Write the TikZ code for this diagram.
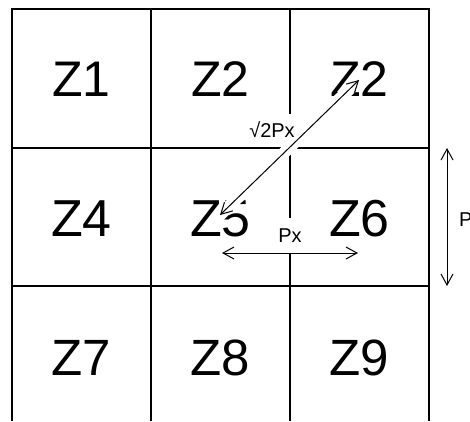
\documentclass[tikz,border=0pt]{standalone}
\usepackage{fontspec}
\setmainfont{Liberation Sans}
\usetikzlibrary{arrows.meta}
\begin{document}
\begin{tikzpicture}[x=1pt,y=-1pt,
  gridline/.style={line width=1.5pt, black},
  zone/.style={anchor=base, inner sep=0pt},
  zoneA/.style={zone, font=\fontsize{50}{50}\selectfont},
  zoneB/.style={zone, font=\fontsize{52}{52}\selectfont},
  zoneC/.style={zone, font=\fontsize{51}{51}\selectfont},
  lab/.style={fill=white, inner sep=2pt, font=\fontsize{20}{20}\selectfont},
  halo/.style={white, line width=12pt},
  arr/.style={{Straight Barb[length=11pt,width=12pt]}-{Straight Barb[length=11pt,width=12pt]}, line width=1pt, black}]
\useasboundingbox (0,0) rectangle (470,421);
\clip (0,0) rectangle (470,421);
\fill[white] (0,0) rectangle (470,421);
% grid
\draw[gridline] (12,421) -- (12,9) -- (429,9) -- (429,421);
\draw[gridline] (151,9) -- (151,421);
\draw[gridline] (290,9) -- (290,421);
\draw[gridline] (12,148) -- (429,148);
\draw[gridline] (12,286) -- (429,286);
% zones
\node[zoneA] (z1) at (81.5,96) {Z1};
\node[zoneA] (z2) at (220.5,96) {Z2};
\node[zoneA] (z3) at (359.5,96) {Z2};
\node[zoneB] (z4) at (81.5,236) {Z4};
\node[zoneB] (z5) at (220.5,236) {Z5};
\node[zoneB] (z6) at (359.5,236) {Z6};
\node[zoneC] (z7) at (81.5,375) {Z7};
\node[zoneC] (z8) at (220.5,375) {Z8};
\node[zoneC] (z9) at (359.5,375) {Z9};
% arrow end points
\coordinate (d1) at (220,215);
\coordinate (d2) at (359,80);
\coordinate (h1) at (222,253);
\coordinate (h2) at (358,253);
\coordinate (v1) at (447,148);
\coordinate (v2) at (447,286);
% halo of the diagonal
\draw[halo] (d1) -- (d2);
% labels
\node[lab, minimum height=32pt] (ldiag) at (272,130) {√2Px};
\node[lab, minimum height=35pt] (lhor) at (290,235.5) {Px};
\node[anchor=base west, inner sep=0pt, font=\fontsize{20}{20}\selectfont] (lver) at (459,226.5) {Px};
% arrows
\draw[arr] (d1) -- (d2);
\draw[arr] (h1) -- (h2);
\draw[arr] (v1) -- (v2);
\end{tikzpicture}
\end{document}
